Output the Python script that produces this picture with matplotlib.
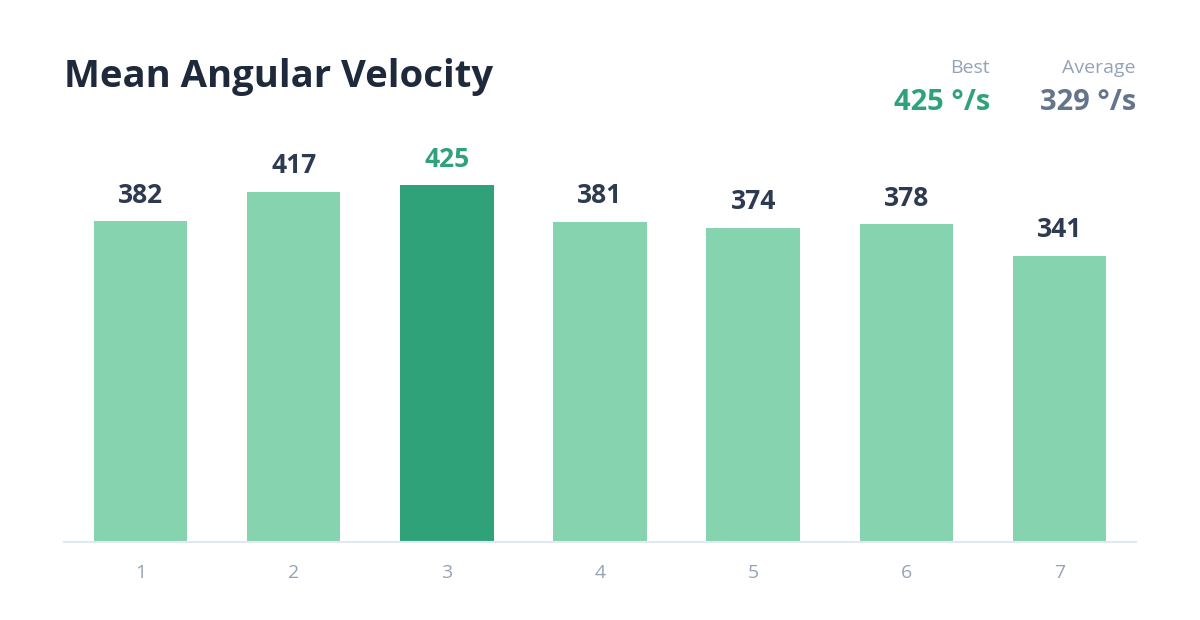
import matplotlib
matplotlib.use('Agg')
import matplotlib.pyplot as plt

plt.rcParams['font.family'] = ['Open Sans', 'DejaVu Sans']

# data
sessions = ['1', '2', '3', '4', '5', '6', '7']
velocity = [382, 417, 425, 381, 374, 378, 341]
best_idx = 2
best_text = '425 °/s'
avg_text = '329 °/s'

light = '#86d4af'
dark = '#30a279'

fig = plt.figure(figsize=(12, 6.2), dpi=100)
ax = fig.add_axes([64/1200, 78/620, 1072/1200, 378/620])

colors = [dark if i == best_idx else light for i in range(len(velocity))]
x = list(range(len(velocity)))
ax.bar(x, velocity, width=0.61, color=colors, zorder=2)

for i, v in enumerate(velocity):
    ax.annotate(str(v), (i, v), xytext=(0, 9), textcoords='offset points',
                ha='center', va='bottom', fontsize=19, fontweight='bold',
                color=dark if i == best_idx else '#2d3a4f')

ax.set_xlim(-0.5, 6.5)
ax.set_ylim(0, 450)
ax.set_xticks(x)
ax.set_xticklabels(sessions)
ax.tick_params(axis='x', length=0, pad=16, labelsize=14, labelcolor='#94a3b8')
ax.set_yticks([])
for s in ['top', 'right', 'left']:
    ax.spines[s].set_visible(False)
ax.spines['bottom'].set_color('#e2e8f0')
ax.spines['bottom'].set_linewidth(1.5)

fig.text(64/1200, 1 - 77/620, 'Mean Angular Velocity', fontsize=27.5, fontweight='bold',
         color='#1e293b', va='center', ha='left')

fig.text(990/1200, 1 - 68/620, 'Best', fontsize=14, color='#94a3b8', ha='right', va='center')
fig.text(1136/1200, 1 - 68/620, 'Average', fontsize=14, color='#94a3b8', ha='right', va='center')
fig.text(990/1200, 1 - 102/620, best_text, fontsize=21, fontweight='bold', color=dark,
         ha='right', va='center')
fig.text(1136/1200, 1 - 102/620, avg_text, fontsize=21, fontweight='bold', color='#64748b',
         ha='right', va='center')

fig.savefig('out.png', dpi=100, facecolor='white')
